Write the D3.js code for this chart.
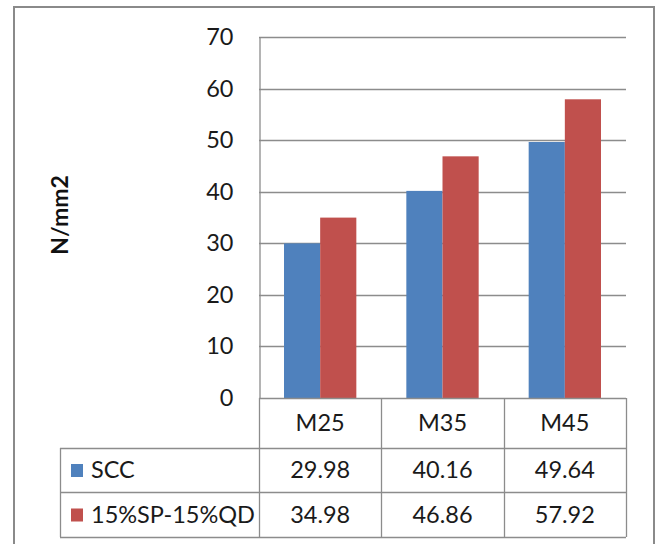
<!DOCTYPE html>
<html>
<head>
<meta charset="utf-8">
<script src="https://cdn.jsdelivr.net/npm/d3@7"></script>
<style>
  html, body { margin: 0; padding: 0; background: #fff; }
  svg { display: block; }
</style>
</head>
<body>
<svg id="chart" width="655" height="544"></svg>
<script>
const categories = ["M25", "M35", "M45"];
const seriesNames = ["SCC", "15%SP-15%QD"];
const sccValues = [29.98, 40.16, 49.64];
const spqdValues = [34.98, 46.86, 57.92];
const valueLabels = [["29.98", "40.16", "49.64"], ["34.98", "46.86", "57.92"]];
const yTicks = [0, 10, 20, 30, 40, 50, 60, 70];
const colors = ["#4F81BD", "#C0504D"];
const yTitle = "N/mm2";

const seriesValues = [sccValues, spqdValues];
const svg = d3.select("#chart");
const font = "Lato, 'Open Sans', sans-serif";
const gridColor = "#8c8c8c";
const textColor = "#1a1a1a";

// outer border
svg.append("rect").attr("x", 14).attr("y", 7).attr("width", 640).attr("height", 560)
  .attr("fill", "none").attr("stroke", "#8a8a8a").attr("stroke-width", 2);

const plotLeft = 259, plotRight = 626, plotTop = 37, plotBottom = 398;
const y = d3.scaleLinear().domain([0, 70]).range([plotBottom, plotTop]);
const x0 = d3.scaleBand().domain(categories).range([plotLeft, plotRight]).padding(0);
const x1 = d3.scaleBand().domain(seriesNames).range([25, x0.bandwidth() - 25]).padding(0);

// gridlines
svg.append("g").selectAll("line").data(yTicks.filter(t => t > 0)).join("line")
  .attr("x1", plotLeft).attr("x2", plotRight)
  .attr("y1", d => Math.round(y(d)) + 0.5).attr("y2", d => Math.round(y(d)) + 0.5)
  .attr("stroke", gridColor).attr("stroke-width", 1.3);

// y axis
const yAxis = d3.axisLeft(y).tickValues(yTicks).tickSize(0).tickPadding(26);
const gy = svg.append("g").attr("transform", `translate(${plotLeft + 0.5},0)`).call(yAxis);
gy.select(".domain").attr("stroke", gridColor).attr("stroke-width", 1.3);
gy.selectAll("text").attr("font-family", font).attr("font-size", 23.5).attr("fill", textColor);

// bars
const groups = svg.append("g").selectAll("g").data(categories).join("g")
  .attr("transform", d => `translate(${x0(d)},0)`);
groups.selectAll("rect").data((d, i) => seriesNames.map((s, j) => ({ s, j, v: seriesValues[j][i] })))
  .join("rect")
  .attr("x", d => x1(d.s)).attr("width", x1.bandwidth())
  .attr("y", d => y(d.v)).attr("height", d => y(0) - y(d.v))
  .attr("fill", d => colors[d.j]);

// y title
svg.append("text").attr("transform", "translate(68,215) rotate(-90)")
  .attr("text-anchor", "middle").attr("font-family", font).attr("font-weight", "bold")
  .attr("font-size", 23).attr("fill", "#111").text(yTitle);

// data table
const tableLeft = 60;
const rowTops = [plotBottom, 448, 492, 537];
const lineAttrs = sel => sel.attr("stroke", gridColor).attr("stroke-width", 1.3).attr("fill", "none");
const tg = svg.append("g");
tg.append("line").attr("x1", plotLeft).attr("x2", plotRight).attr("y1", rowTops[0] + 0.5).attr("y2", rowTops[0] + 0.5).call(lineAttrs);
rowTops.slice(1).forEach(r => {
  tg.append("line").attr("x1", tableLeft).attr("x2", plotRight).attr("y1", r + 0.5).attr("y2", r + 0.5).call(lineAttrs);
});
const colEdges = [plotLeft, ...categories.map(c => x0(c) + x0.bandwidth())];
colEdges.forEach(cx => {
  tg.append("line").attr("x1", Math.round(cx) + 0.5).attr("x2", Math.round(cx) + 0.5)
    .attr("y1", rowTops[0]).attr("y2", rowTops[3]).call(lineAttrs);
});
tg.append("line").attr("x1", tableLeft + 0.5).attr("x2", tableLeft + 0.5)
  .attr("y1", rowTops[1]).attr("y2", rowTops[3]).call(lineAttrs);

// category labels
tg.selectAll("text.cat").data(categories).join("text").attr("class", "cat")
  .attr("x", d => x0(d) + x0.bandwidth() / 2).attr("y", (rowTops[0] + rowTops[1]) / 2 + 8)
  .attr("text-anchor", "middle").attr("font-family", font).attr("font-size", 23.5).attr("fill", textColor)
  .text(d => d);

// series rows
seriesNames.forEach((s, j) => {
  const cy = (rowTops[j + 1] + rowTops[j + 2]) / 2;
  tg.append("rect").attr("x", 71).attr("y", cy - 6).attr("width", 12).attr("height", 13).attr("fill", colors[j]);
  tg.append("text").attr("x", 91).attr("y", cy + 8).attr("font-family", font).attr("font-size", 23.5)
    .attr("fill", textColor).text(s);
  categories.forEach((c, i) => {
    tg.append("text").attr("x", x0(c) + x0.bandwidth() / 2).attr("y", cy + 8)
      .attr("text-anchor", "middle").attr("font-family", font).attr("font-size", 23.5).attr("fill", textColor)
      .text(valueLabels[j][i]);
  });
});
</script>
</body>
</html>
